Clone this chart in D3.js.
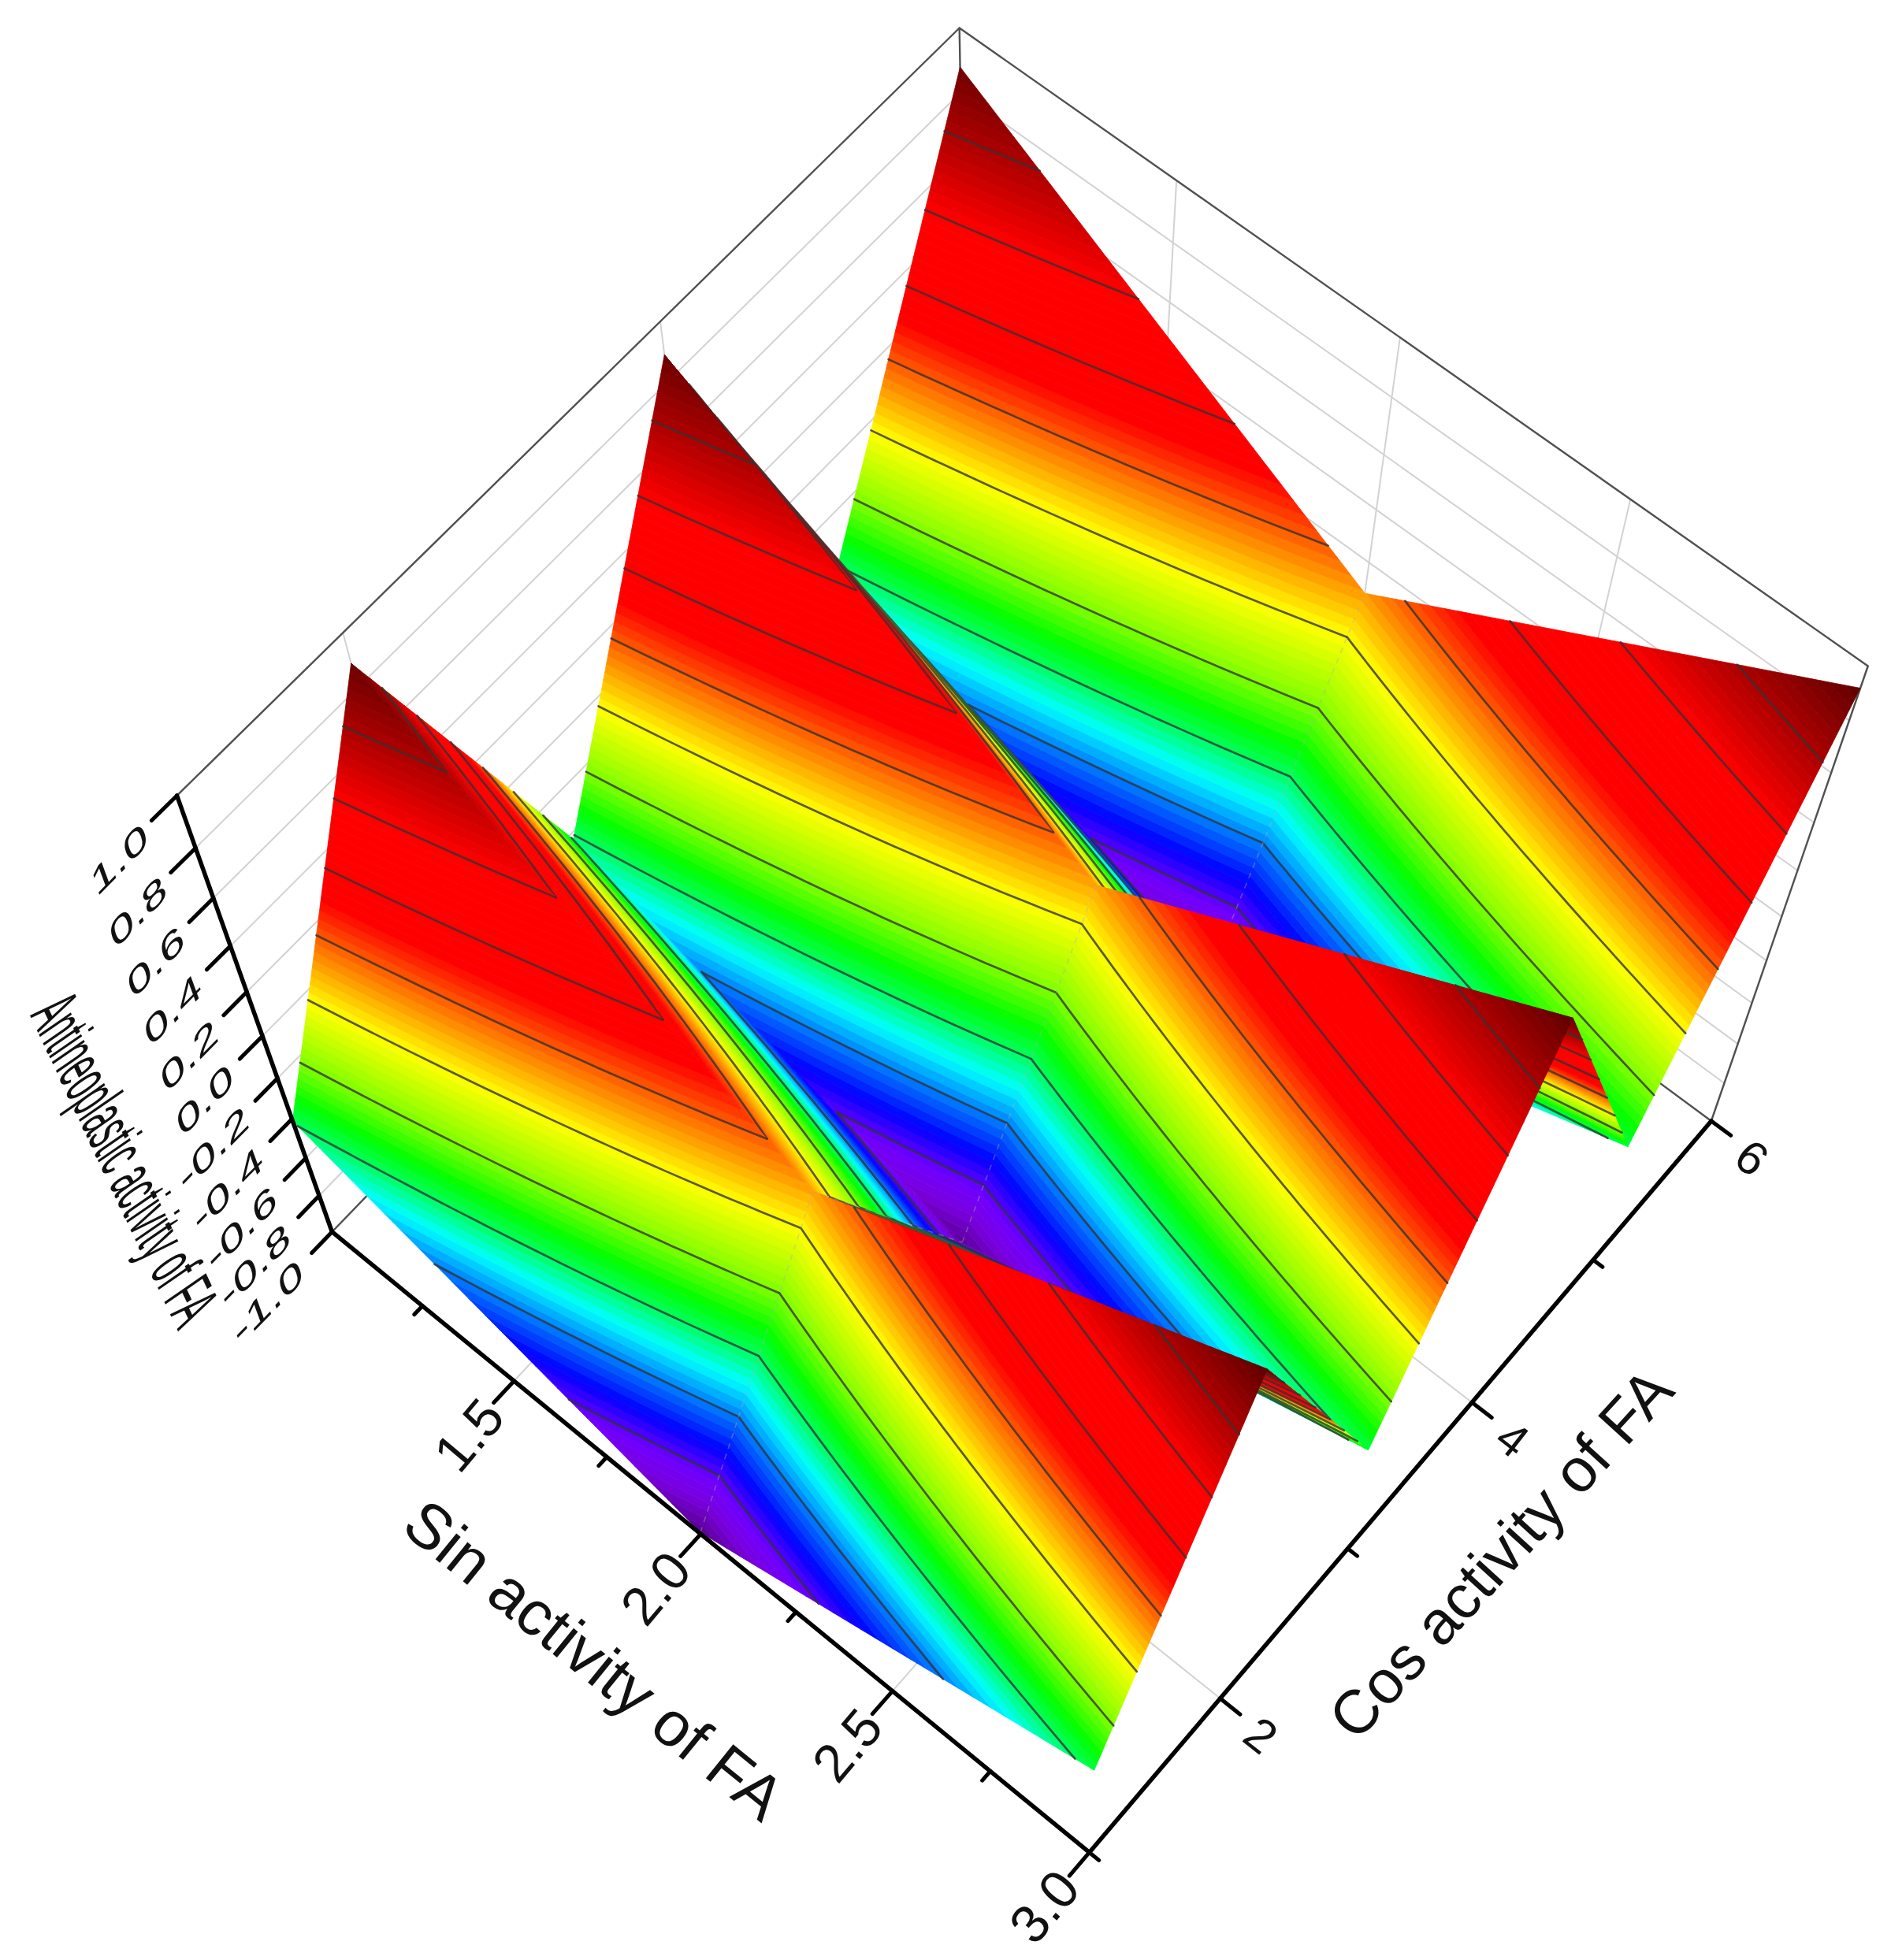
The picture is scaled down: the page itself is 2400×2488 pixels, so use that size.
<!DOCTYPE html>
<html>
<head>
<meta charset="utf-8">
<title>Antineoplastic activity of FA</title>
<script src="https://cdn.jsdelivr.net/npm/d3@7"></script>
<style>
  body { margin: 0; background: #fff; }
  svg { display: block; filter: blur(0.7px); }
  text { font-family: "Liberation Sans", Arial, sans-serif; fill: #111; }
</style>
</head>
<body>
<script>
// grid
const sinValues = [1, 2, 3];
const cosValues = [1, 2, 3, 4, 5, 6];
const activityAtCos1 = [-0.41, -0.99, -0.39];
const activityAtCos2 = [0.89, 0.07, 0.92];
const activityAtCos3 = [-0.43, -0.98, -0.39];
const activityAtCos4 = [0.89, 0.07, 0.92];
const activityAtCos5 = [-0.41, -0.99, -0.39];
const activityAtCos6 = [0.88, 0.08, 0.92];
const activityRows = [activityAtCos1, activityAtCos2, activityAtCos3, activityAtCos4, activityAtCos5, activityAtCos6];

const sinMajorTicks = [1.0, 1.5, 2.0, 2.5, 3.0];
const sinMinorTicks = [1.25, 1.75, 2.25, 2.75];
const cosMajorTicks = [2, 4, 6];
const cosMinorTicks = [1, 3, 5];
const zTicks = [-1.0, -0.8, -0.6, -0.4, -0.2, 0.0, 0.2, 0.4, 0.6, 0.8, 1.0];
const zTickLabels = ['-1.0', '-0.8', '-0.6', '-0.4', '-0.2', '0.0', '0.2', '0.4', '0.6', '0.8', '1.0'];
const contourLevels = [-0.799, -0.608, -0.417, -0.226, -0.035, 0.156, 0.347, 0.538, 0.729];

const colorStops = [-0.99, -0.895, -0.82, -0.725, -0.608, -0.51, -0.417, -0.34, -0.226, -0.035, 0.26, 0.538, 0.68, 0.92];
const colorNames = ['#5a0090', '#7a00e0', '#7000ff', '#0000ff', '#0080ff', '#00ffff', '#00ff60', '#00ff00',
                    '#80ff00', '#ffff00', '#ff0000', '#ff0000', '#c00000', '#600000'];

const svgWidth = 2400;
const svgHeight = 2488;
const bandCount = 80;
const tileCount = 14;

const svg = d3.select('body')
              .append('svg')
              .attr('width', svgWidth)
              .attr('height', svgHeight);

// unit cube scales
const sinScale = d3.scaleLinear().domain([1, 3]).range([0, 1]);
const cosScale = d3.scaleLinear().domain([1, 6]).range([0, 1]);
const zScale = d3.scaleLinear().domain([-1, 1]).range([0, 1]);
const colorScale = d3.scaleLinear().domain(colorStops).range(colorNames).interpolate(d3.interpolateRgb);

// camera matrix fitted to the box corners of the reference
const camera = [
  [890.40649, 885.49441, -238.51749, 421.42126],
  [667.43252, -791.49247, -741.06879, 1563.71341],
  [-0.05116, 0.06287, -0.18547, 1]
];

const project = (s, c, z) => {
  const v = [sinScale(s), cosScale(c), zScale(z), 1];
  const row = (r) => d3.sum(r, (d, i) => d * v[i]);
  const w = row(camera[2]);
  return [row(camera[0]) / w, row(camera[1]) / w];
};

const fmt = (p) => p[0].toFixed(2) + ',' + p[1].toFixed(2);
const line = (a, b) => 'M' + fmt(project(...a)) + 'L' + fmt(project(...b));

const drawLines = (parent, segments, stroke, width) => {
  parent.append('path')
        .attr('d', segments.map((d) => line(d[0], d[1])).join(''))
        .attr('fill', 'none')
        .attr('stroke', stroke)
        .attr('stroke-width', width)
        .attr('stroke-linecap', 'round');
};

// walls and floor
const back = svg.append('g').attr('id', 'box');
const gridSegments = [];
zTicks.slice(1, -1).forEach((z) => {
  gridSegments.push([[1, 1, z], [1, 6, z]]);
  gridSegments.push([[1, 6, z], [3, 6, z]]);
});
[2, 4].forEach((c) => {
  gridSegments.push([[1, c, -1], [1, c, 1]]);
  gridSegments.push([[1, c, -1], [3, c, -1]]);
});
[1.5, 2, 2.5].forEach((s) => {
  gridSegments.push([[s, 6, -1], [s, 6, 1]]);
  gridSegments.push([[s, 1, -1], [s, 6, -1]]);
});
drawLines(back, gridSegments, '#d2d2d2', 2);
drawLines(back, [
  [[1, 1, 1], [1, 6, 1]],
  [[1, 6, 1], [3, 6, 1]],
  [[3, 6, 1], [3, 6, -1]],
  [[1, 6, -1], [1, 6, 1]],
  [[1, 1, -1], [1, 6, -1]],
  [[1, 6, -1], [3, 6, -1]]
], '#505050', 2.4);

// keep the part of a polygon between two heights
const clipAbove = (poly, level, sign) => {
  const out = [];
  poly.forEach((a, i) => {
    const b = poly[(i + 1) % poly.length];
    const da = sign * (a[2] - level);
    const db = sign * (b[2] - level);
    if (da >= 0) out.push(a);
    if ((da >= 0) !== (db >= 0)) {
      const t = da / (da - db);
      out.push([a[0] + t * (b[0] - a[0]), a[1] + t * (b[1] - a[1]), a[2] + t * (b[2] - a[2])]);
    }
  });
  return out;
};

const bandEdges = d3.range(bandCount + 1).map((i) => -0.99 + 1.91 * i / bandCount);

const drawCell = (parent, cosIndex, sinIndex) => {
  const s0 = sinValues[sinIndex];
  const s1 = sinValues[sinIndex + 1];
  const c0 = cosValues[cosIndex];
  const c1 = cosValues[cosIndex + 1];
  const z00 = activityRows[cosIndex][sinIndex];
  const z10 = activityRows[cosIndex][sinIndex + 1];
  const z01 = activityRows[cosIndex + 1][sinIndex];
  const z11 = activityRows[cosIndex + 1][sinIndex + 1];
  const node = (i, j) => {
    const a = i / tileCount;
    const b = j / tileCount;
    return [s0 + a * (s1 - s0), c0 + b * (c1 - c0),
            (1 - a) * (1 - b) * z00 + a * (1 - b) * z10 + (1 - a) * b * z01 + a * b * z11];
  };

  const bandPaths = bandEdges.slice(1).map(() => '');
  let contourPath = '';

  const addTriangle = (tri) => {
    const low = d3.min(tri, (d) => d[2]);
    const high = d3.max(tri, (d) => d[2]);
    for (let k = 0; k < bandCount; k++) {
      if (bandEdges[k + 1] < low || bandEdges[k] > high) continue;
      const piece = clipAbove(clipAbove(tri, bandEdges[k], 1), bandEdges[k + 1], -1);
      if (piece.length < 3) continue;
      bandPaths[k] += 'M' + piece.map((d) => fmt(project(...d))).join('L') + 'Z';
    }
    contourLevels.forEach((level) => {
      if (level < low || level > high) return;
      const hits = [];
      tri.forEach((a, i) => {
        const b = tri[(i + 1) % 3];
        if ((a[2] >= level) !== (b[2] >= level)) {
          const t = (level - a[2]) / (b[2] - a[2]);
          hits.push([a[0] + t * (b[0] - a[0]), a[1] + t * (b[1] - a[1]), level]);
        }
      });
      if (hits.length === 2) contourPath += line(hits[0], hits[1]);
    });
  };

  d3.range(tileCount).forEach((i) => {
    d3.range(tileCount).forEach((j) => {
      addTriangle([node(i, j), node(i + 1, j), node(i + 1, j + 1)]);
      addTriangle([node(i, j), node(i + 1, j + 1), node(i, j + 1)]);
    });
  });

  bandPaths.forEach((d, k) => {
    if (!d) return;
    const color = colorScale((bandEdges[k] + bandEdges[k + 1]) / 2);
    parent.append('path')
          .attr('d', d)
          .attr('fill', color)
          .attr('stroke', color)
          .attr('stroke-width', 0.8)
          .attr('stroke-linejoin', 'round');
  });

  parent.append('path')
        .attr('d', contourPath)
        .attr('fill', 'none')
        .attr('stroke', 'rgba(50,50,50,0.8)')
        .attr('stroke-width', 2.7)
        .attr('stroke-linecap', 'round');
};

// far cells first
const surface = svg.append('g').attr('id', 'surface');
d3.range(cosValues.length - 2, -1, -1).forEach((cosIndex) => {
  const strip = surface.append('g');
  drawCell(strip, cosIndex, 0);
  drawCell(strip, cosIndex, 1);
  strip.append('path')
       .attr('d', line([2, cosValues[cosIndex], activityRows[cosIndex][1]],
                       [2, cosValues[cosIndex + 1], activityRows[cosIndex + 1][1]]))
       .attr('fill', 'none')
       .attr('stroke', 'rgba(170,170,170,0.4)')
       .attr('stroke-width', 1.6)
       .attr('stroke-dasharray', '7 7');
});

// axes
const axes = svg.append('g').attr('id', 'axes');
drawLines(axes, [
  [[1, 1, -1], [3, 1, -1]],
  [[3, 1, -1], [3, 6, -1]],
  [[1, 1, -1], [1, 1, 1]]
], '#000', 5.5);

const tickSegments = [];
zTicks.forEach((z) => tickSegments.push([[1, 1, z], [1, 1 - 0.15, z]]));
sinMajorTicks.forEach((s) => tickSegments.push([[s, 1, -1], [s, 1 - 0.15, -1]]));
sinMinorTicks.forEach((s) => tickSegments.push([[s, 1, -1], [s, 1 - 0.06, -1]]));
cosMajorTicks.forEach((c) => tickSegments.push([[3, c, -1], [3 + 0.05, c, -1]]));
cosMinorTicks.forEach((c) => tickSegments.push([[3, c, -1], [3 + 0.024, c, -1]]));
drawLines(axes, tickSegments, '#000', 5);

// tick labels
const sinFormat = d3.format('.1f');
sinMajorTicks.slice(1).forEach((s) => {
  const p = project(s, 1, -1);
  axes.append('text')
      .attr('transform', `translate(${p[0] - 58},${p[1] + 68}) rotate(-50)`)
      .attr('text-anchor', 'middle')
      .attr('dy', '0.36em')
      .attr('font-size', 68)
      .text(sinFormat(s));
});

cosMajorTicks.forEach((c) => {
  const p = project(3, c, -1);
  axes.append('text')
      .attr('transform', `translate(${p[0] + 52},${p[1] + 46}) rotate(38)`)
      .attr('text-anchor', 'middle')
      .attr('dy', '0.36em')
      .attr('font-size', 60)
      .text(c);
});

zTicks.forEach((z, i) => {
  const p = project(1, 1, z);
  axes.append('text')
      .attr('transform', `matrix(0.49,-0.5,0.15,0.41,${p[0] - 34},${p[1] + 60})`)
      .attr('text-anchor', 'end')
      .attr('font-size', 100)
      .text(zTickLabels[i]);
});

// axis titles
axes.append('text')
    .attr('transform', 'translate(755,2106) rotate(39)')
    .attr('text-anchor', 'middle')
    .attr('dy', '0.36em')
    .attr('font-size', 80)
    .text('Sin activity of FA');

axes.append('text')
    .attr('transform', 'translate(1904,1971) rotate(-47.6)')
    .attr('text-anchor', 'middle')
    .attr('dy', '0.36em')
    .attr('font-size', 78)
    .text('Cos activity of FA');

axes.append('text')
    .attr('transform', 'matrix(0.1546,0.3296,-0.768,0.531,38,1289)')
    .attr('font-size', 100)
    .text('Antineoplastic activity of FA');
</script>
</body>
</html>
